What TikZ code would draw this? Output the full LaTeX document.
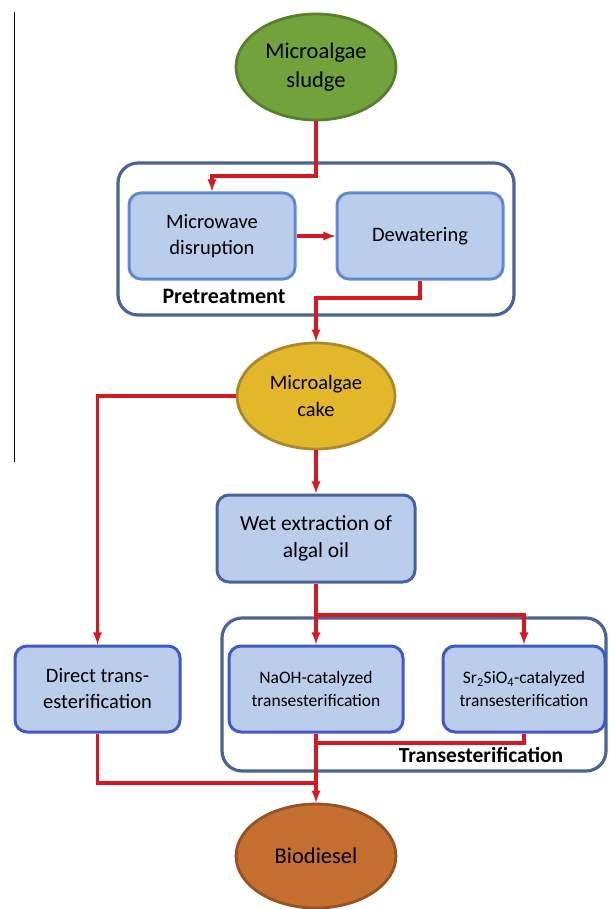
\documentclass[tikz,border=0pt]{standalone}
\usepackage{fontspec}
\setmainfont{Carlito}
\usepackage{xcolor}
\usepackage{tikz}
\usetikzlibrary{shapes.geometric}
\definecolor{flow-red}{RGB}{214, 24, 32}
\definecolor{box-fill}{RGB}{186, 205, 234}
\definecolor{box-line}{RGB}{98, 138, 212}
\definecolor{box-dark}{RGB}{72, 98, 158}
\definecolor{box-blue}{RGB}{66, 88, 196}
\definecolor{group-line}{RGB}{74, 100, 150}
\definecolor{sludge-fill}{RGB}{113, 162, 60}
\definecolor{sludge-line}{RGB}{86, 128, 44}
\definecolor{cake-fill}{RGB}{227, 183, 42}
\definecolor{cake-line}{RGB}{168, 138, 44}
\definecolor{bio-fill}{RGB}{196, 110, 48}
\definecolor{bio-line}{RGB}{150, 82, 36}

\begin{document}
\begin{tikzpicture}[x=1pt, y=-1pt,
    flow/.style={flow-red, line width=3.1pt},
    flowarr/.style={flow, -latex},
    stage/.style={draw=box-line, fill=box-fill, line width=3pt, rounded corners=12pt,
      minimum width=166pt, minimum height=86pt, inner sep=0pt, align=center,
      font=\fontsize{20.5}{26}\selectfont},
    product/.style={ellipse, line width=2.8pt, minimum width=160pt, minimum height=106pt,
      inner sep=0pt, align=center, font=\fontsize{22.5}{29}\selectfont},
    group/.style={draw=group-line, line width=3.2pt, rounded corners=20pt, inner sep=0pt},
    grouplabel/.style={font=\fontsize{22}{26}\selectfont\bfseries}]
  \useasboundingbox (0,0) rectangle (608,909);
  \draw[line width=0.8pt] (14,12) -- (14,462);

  \node[group, minimum width=396pt, minimum height=152pt] (pre) at (316,239) {};
  \node[group, minimum width=384pt, minimum height=153pt] (trans) at (414,694.5) {};

  \node[product, fill=sludge-fill, draw=sludge-line] (sludge) at (316,67) {Microalgae\\sludge};
  \node[stage] (micro) at (212,236) {Microwave\\disruption};
  \node[stage] (dewat) at (420,236) {Dewatering};
  \node[grouplabel] (prelabel) at (224,296) {Pretreatment};
  \node[product, fill=cake-fill, draw=cake-line, minimum width=158pt, font=\fontsize{20.5}{27}\selectfont] (cake) at (316,396) {Microalgae\\cake};
  \node[stage, draw=box-dark, minimum width=198pt, minimum height=87pt, font=\fontsize{21.5}{27}\selectfont] (wet) at (316,538.5) {Wet extraction of\\algal oil};
  \node[stage, draw=box-blue, minimum width=165pt] (direct) at (97.5,689) {Direct trans-\\esterification};
  \node[stage, draw=box-blue, minimum width=174pt, font=\fontsize{17.5}{23}\selectfont] (naoh) at (316,689) {NaOH-catalyzed\\transesterification};
  \node[stage, draw=box-blue, minimum width=162pt, font=\fontsize{17.5}{23}\selectfont] (sr) at (524,689) {Sr\textsubscript{2}SiO\textsubscript{4}-catalyzed\\transesterification};
  \node[grouplabel, font=\fontsize{21.5}{26}\selectfont\bfseries] (translabel) at (481,755) {Transesterification};
  \node[product, fill=bio-fill, draw=bio-line, minimum height=104pt] (bio) at (316,856) {Biodiesel};

  \coordinate (split) at (316,615);
  \coordinate (merge) at (316,783);
  \draw[flowarr] (sludge.south) -- (sludge.south |- 0,176) -| (micro.north);
  \draw[flowarr] (micro.east) -- (dewat.west);
  \draw[flowarr] (dewat.south) -- (dewat.south |- 0,298) -| (cake.north);
  \draw[flowarr] (cake.west) -| (direct.north);
  \draw[flowarr] (cake.south) -- (wet.north);
  \draw[flow] (wet.south) -- (split);
  \draw[flowarr] (split) -- (naoh.north);
  \draw[flowarr] (split) -| (sr.north);
  \draw[flow] (sr.south) -- (sr.south |- 0,743) -| (naoh.south);
  \draw[flow] (direct.south) |- (merge);
  \draw[flowarr] (naoh.south) -- (bio.north);
\end{tikzpicture}
\end{document}
